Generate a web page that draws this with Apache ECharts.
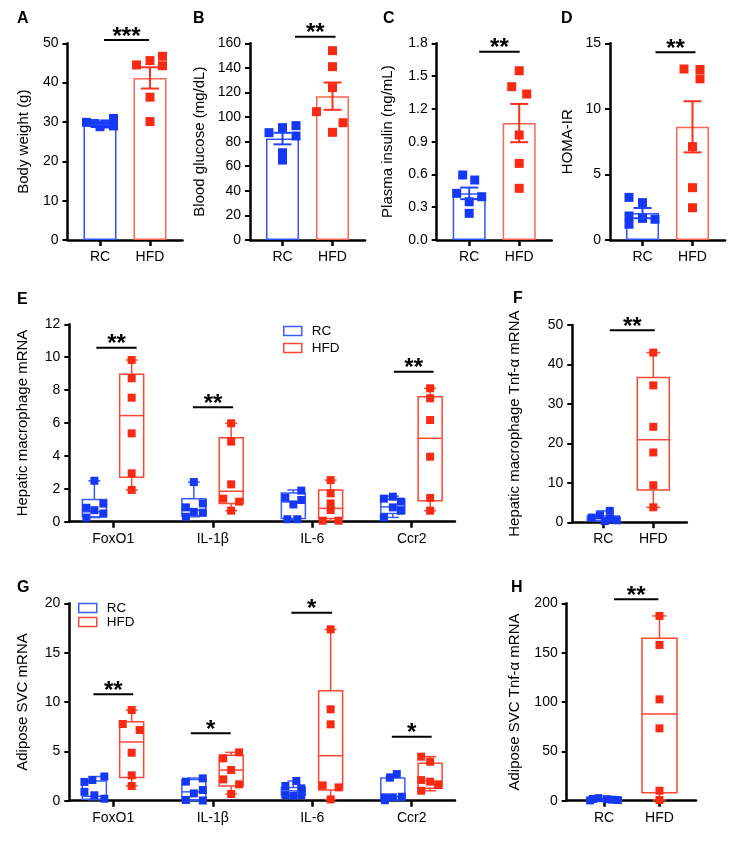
<!DOCTYPE html>
<html><head><meta charset="utf-8">
<script src="https://cdn.jsdelivr.net/npm/echarts@6/dist/echarts.min.js"></script>
<style>html,body{margin:0;padding:0;background:#fff}#c{width:738px;height:842px}</style>
</head><body><div id="c"></div>
<script>
// ================= DATA =================
const groups = ['RC', 'HFD'];
const genes = ['FoxO1', 'IL-1β', 'IL-6', 'Ccr2'];

// A: Body weight (g)
const bodyWeightRC  = [30.9, 29.9, 29.6, 29.5, 29.0, 28.8];
const bodyWeightHFD = [46.7, 45.6, 44.5, 44.3, 36.3, 30.1];
const bodyWeightMean = [29.7, 41.2];
const bodyWeightSEM  = [0.4, 2.7];
// B: Blood glucose (mg/dL)
const glucoseRC  = [93, 91.4, 87.3, 84.6, 71, 65];
const glucoseHFD = [154, 141, 124, 104.4, 95.4, 87.6];
const glucoseMean = [82.5, 117];
const glucoseSEM  = [4.7, 11.1];
// C: Plasma insulin (ng/mL)
const insulinRC  = [0.595, 0.549, 0.427, 0.396, 0.35, 0.244];
const insulinHFD = [1.549, 1.403, 1.336, 0.961, 0.701, 0.473];
const insulinMean = [0.427, 1.07];
const insulinSEM  = [0.053, 0.175];
// D: HOMA-IR
const homaRC  = [3.25, 2.85, 1.83, 1.65, 1.58, 1.2];
const homaHFD = [13.04, 13.0, 12.29, 7.12, 3.99, 2.46];
const homaMean = [2.05, 8.63];
const homaSEM  = [0.39, 1.95];

// E: Hepatic macrophage mRNA (per gene), box stats = [min, Q1, median, Q3, max]
const hepRC  = [[2.49,1.1,0.85,0.7,0.5,0.25],[2.41,1.11,0.87,0.6,0.55,0.3],[1.89,1.46,1.32,1.05,0.15,0.15],[1.52,1.4,1.22,0.87,0.67,0.26]];
const hepHFD = [[9.83,8.72,7.54,5.37,2.94,1.93],[5.98,4.87,2.27,1.4,1.22,0.67],[2.53,1.72,1.11,0.71,0.06,0.06],[8.11,7.5,6.18,3.95,1.44,0.67]];
const hepBoxRC  = [[0.25,0.3,0.6,1.35,2.49],[0.3,0.35,0.7,1.4,2.41],[0.15,0.2,1.2,1.75,1.93],[0.26,0.5,0.9,1.36,1.55]];
const hepBoxHFD = [[1.93,2.7,6.45,8.96,9.83],[0.67,1.1,1.85,5.1,5.98],[0.06,0.2,0.81,1.93,2.53],[0.67,1.28,5.07,7.6,8.11]];
// F: Hepatic macrophage Tnf-α mRNA
const hepTnfRC  = [2.9, 1.8, 1.2, 0.9, 0.5, 0.3];
const hepTnfHFD = [43, 34.7, 24.2, 17.7, 9.4, 3.8];
const hepTnfBox = [[0.3,0.45,1.0,1.6,2.9],[3.8,8.2,20.9,36.7,43]];
// G: Adipose SVC mRNA
const adiRC  = [[2.45,2.1,1.9,0.9,0.55,0.2],[2.26,1.93,1.08,0.74,0.07,0.02],[2.0,1.49,1.25,0.57,0.5,0.57],[2.7,2.33,0.4,0.34,0.34,0.05]];
const adiHFD = [[9.19,7.77,7.16,4.86,2.57,1.49],[4.9,4.29,3.11,2.16,1.66,0.68],[17.36,9.26,7.74,1.55,1.35,0.13],[4.46,3.95,2.09,1.93,1.59,1.01]];
const adiBoxRC  = [[0.1,0.15,0.45,2.0,2.45],[0.02,0.1,0.9,2.15,2.3],[0.5,0.55,1.0,1.35,2.0],[0.05,0.1,0.4,2.3,2.7]];
const adiBoxHFD = [[1.49,2.36,5.95,8.0,9.19],[0.68,1.49,3.11,4.6,4.9],[0.13,1.08,4.56,11.15,17.36],[1.01,1.25,2.0,3.8,4.46]];
// H: Adipose SVC Tnf-α mRNA
const adiTnfRC  = [2.5, 1.8, 1.5, 1.0, 0.6, 0.3];
const adiTnfHFD = [187.2, 157.8, 102.7, 73.3, 10.1, 0.7];
const adiTnfBox = [[0.3,0.4,1.0,1.6,2.5],[0.7,8.1,87.8,164.5,187.2]];

// Significance annotations: [x1, x2, y] in axis units + label
const sigA = [[0.08, 0.98, 50.85]], sigAText = ['***'];
const sigB = [[0.25, 1.06, 165.4]], sigBText = ['**'];
const sigC = [[0.2, 1.01, 1.723]], sigCText = ['**'];
const sigD = [[0.26, 1.06, 14.32]], sigDText = ['**'];
const sigE = [[-0.17, 0.235, 10.58], [0.8, 1.205, 6.96], [2.82, 3.22, 9.12]], sigEText = ['**', '**', '**'];
const sigF = [[0.13, 1.03, 48.7]], sigFText = ['**'];
const sigG = [[-0.2, 0.2, 10.78], [0.78, 1.18, 6.83], [1.79, 2.2, 19.05], [2.8, 3.2, 6.48]], sigGText = ['**', '*', '*', '*'];
const sigH = [[0.18, 0.98, 204.2]], sigHText = ['**'];

// ================= LAYOUT / STYLE =================
const FONT = 'Liberation Sans, Arial, Helvetica, sans-serif';
const PT_BLUE = '#1438f5', PT_RED = '#fa2a12';
const BAR_BLUE = '#2f55ff', BAR_RED = '#ff6450';
const ERR_BLUE = '#1f45ff', ERR_RED = '#ff2e1e';
const BOX_BLUE = '#3a5cff', BOX_RED = '#ff4634';

// horizontal jitter of points (axis units)
const jitA = [[0.27,-0.27,-0.1,0.1,0.27,0],[0.25,0,-0.27,0.25,0,0]];
const jitB = [[0.27,0,-0.27,0.27,0,0],[0,0,0,-0.32,0.21,0]];
const jitC = [[-0.13,0.11,-0.25,0.25,0,0],[0,-0.15,0.15,0,0,0]];
const jitD = [[-0.27,0,-0.27,0,0.25,-0.27],[-0.17,0.15,0.15,0,0,0]];
const jitERC = [[0,0.09,-0.08,0,0.09,-0.08],[0,0.09,-0.08,0,0.09,-0.08],[0.08,-0.08,0.08,0,-0.06,0.04],[0,-0.09,0.08,0,0.08,-0.09]];
const jitEHFD = [[0,0,0,0,0,0],[0,0,0,-0.08,0.08,0],[0,0,0,0,-0.08,0.08],[0,0,0,0,0,0]];
const jitF = [[0.13,-0.07,-0.23,0.13,0.27,0.03],[0,0,0,0,0,0]];
const jitGRC = [[0.1,-0.02,-0.1,-0.1,0,0.1],[0.09,-0.08,0.09,0,-0.08,0.09],[0.03,-0.08,0.08,-0.08,0,0.08],[0.04,-0.03,0.09,0,-0.08,-0.08]];
const jitGHFD = [[0,-0.09,0.08,0,0,0],[0.08,-0.08,0,-0.08,0.08,0],[0,0,0,-0.08,0.08,0],[-0.09,0,-0.09,0,0.08,-0.09]];
const jitH = [[-0.1,-0.2,0.05,0.15,0.25,-0.25],[0,0,0,0,0,0]];
const GENE_OFF = [-0.19, 0.185];

const gridDefs = [
  {left: 67.5, top: 43.3, width: 115, height: 196.7},   // A
  {left: 250, top: 43.3, width: 115, height: 196.7},    // B
  {left: 436.7, top: 43.3, width: 115, height: 196.7},  // C
  {left: 610, top: 43.3, width: 115, height: 196.7},    // D
  {left: 69.3, top: 324.3, width: 385.7, height: 197.4},// E
  {left: 572.3, top: 325, width: 114.5, height: 197.3}, // F
  {left: 69.3, top: 603.3, width: 385.7, height: 197.4},// G
  {left: 566.7, top: 603.3, width: 129.3, height: 197.4}// H
];
const xRanges = [[-0.65,1.65],[-0.65,1.65],[-0.65,1.65],[-0.65,1.65],[-0.442,3.435],[-0.62,1.67],[-0.442,3.435],[-0.672,1.658]];
const yDefs = [
  {max: 50, interval: 10, name: 'Body weight (g)', gap: 36},
  {max: 160, interval: 20, name: 'Blood glucose (mg/dL)', gap: 43},
  {max: 1.8, interval: 0.3, name: 'Plasma insulin (ng/mL)', gap: 41, fmt: v => v.toFixed(1)},
  {max: 15, interval: 5, name: 'HOMA-IR', gap: 35},
  {max: 12, interval: 2, name: 'Hepatic macrophage mRNA', gap: 39},
  {max: 50, interval: 10, name: 'Hepatic macrophage Tnf-α mRNA', gap: 50},
  {max: 20, interval: 5, name: 'Adipose SVC mRNA', gap: 39},
  {max: 200, interval: 50, name: 'Adipose SVC Tnf-α mRNA', gap: 44}
];

const grid = [], xAxis = [], yAxis = [], series = [];
gridDefs.forEach((g, i) => {
  grid.push(Object.assign({outerBoundsMode: 'none', containLabel: false}, g));
  const isGene = (i === 4 || i === 6);
  const cats = isGene ? genes : groups;
  const vals = cats.map((_, k) => k);
  xAxis.push({
    gridIndex: i, type: 'value', min: xRanges[i][0], max: xRanges[i][1],
    axisLine: {show: true, onZero: false, lineStyle: {color: '#000', width: 2.5}},
    axisTick: {show: true, customValues: vals, length: 6, lineStyle: {color: '#000', width: 2.5}},
    axisLabel: {show: true, customValues: vals, formatter: v => cats[Math.round(v)], color: '#000', fontSize: 14, fontFamily: FONT, margin: 10},
    splitLine: {show: false}
  });
  const yd = yDefs[i];
  yAxis.push({
    gridIndex: i, type: 'value', min: 0, max: yd.max, interval: yd.interval,
    axisLine: {show: true, onZero: false, lineStyle: {color: '#000', width: 2.5}},
    axisTick: {show: true, length: 5, lineStyle: {color: '#000', width: 2}},
    axisLabel: {color: '#000', fontSize: 14, fontFamily: FONT, margin: 9, formatter: yd.fmt},
    splitLine: {show: false},
    name: yd.name, nameLocation: 'middle', nameGap: yd.gap,
    nameTextStyle: {color: '#000', fontSize: 15, fontFamily: FONT}
  });
});

function scatter(idx, vals, jit, base, color, size, name) {
  series.push({
    type: 'scatter', name: name, xAxisIndex: idx, yAxisIndex: idx, symbol: 'rect', symbolSize: size,
    itemStyle: {color: color, opacity: 1}, z: 4,
    data: vals.map((v, k) => [base + jit[k], v])
  });
}

function errorBars(idx, mean, sem) {
  series.push({
    type: 'custom', name: 'err' + idx, xAxisIndex: idx, yAxisIndex: idx, z: 5,
    encode: {x: 0, y: 1},
    data: mean.map((m, k) => [k, m, sem[k]]),
    renderItem: (params, api) => {
      const x = api.value(0), m = api.value(1), s = api.value(2);
      const t = api.coord([x, m + s]), b = api.coord([x, m - s]);
      const c = params.dataIndex === 0 ? ERR_BLUE : ERR_RED;
      const cw = 18, st = {stroke: c, lineWidth: 2};
      return {type: 'group', children: [
        {type: 'line', shape: {x1: t[0], y1: t[1], x2: b[0], y2: b[1]}, style: st},
        {type: 'line', shape: {x1: t[0] - cw / 2, y1: t[1], x2: t[0] + cw / 2, y2: t[1]}, style: st},
        {type: 'line', shape: {x1: b[0] - cw / 2, y1: b[1], x2: b[0] + cw / 2, y2: b[1]}, style: st}
      ]};
    }
  });
}

function barPanel(idx, rc, hfd, mean, sem, jit) {
  series.push({
    type: 'bar', name: 'bar' + idx, xAxisIndex: idx, yAxisIndex: idx, barWidth: 33, z: 2,
    itemStyle: {color: '#fff', borderWidth: 1.5},
    data: [
      {value: [0, mean[0]], itemStyle: {borderColor: BAR_BLUE}},
      {value: [1, mean[1]], itemStyle: {borderColor: BAR_RED}}
    ]
  });
  scatter(idx, rc, jit[0], 0, PT_BLUE, 9, 'ptRC' + idx);
  scatter(idx, hfd, jit[1], 1, PT_RED, 9, 'ptHFD' + idx);
  errorBars(idx, mean, sem);
}

function boxSeries(idx, name, items, color, width, capW) {
  series.push({
    type: 'custom', name: name, xAxisIndex: idx, yAxisIndex: idx, z: 3,
    itemStyle: {color: color},
    encode: {x: 0, y: [1, 2, 3, 4, 5]},
    data: items,
    renderItem: (params, api) => {
      const x = api.value(0);
      const pMin = api.coord([x, api.value(1)]), pQ1 = api.coord([x, api.value(2)]);
      const pMed = api.coord([x, api.value(3)]), pQ3 = api.coord([x, api.value(4)]);
      const pMax = api.coord([x, api.value(5)]);
      const cx = pMin[0], st = {stroke: color, lineWidth: 1.5, fill: null};
      return {type: 'group', children: [
        {type: 'line', shape: {x1: cx, y1: pMax[1], x2: cx, y2: pQ3[1]}, style: st},
        {type: 'line', shape: {x1: cx, y1: pQ1[1], x2: cx, y2: pMin[1]}, style: st},
        {type: 'line', shape: {x1: cx - capW / 2, y1: pMax[1], x2: cx + capW / 2, y2: pMax[1]}, style: st},
        {type: 'line', shape: {x1: cx - capW / 2, y1: pMin[1], x2: cx + capW / 2, y2: pMin[1]}, style: st},
        {type: 'rect', shape: {x: cx - width / 2, y: pQ3[1], width: width, height: pQ1[1] - pQ3[1]}, style: {stroke: color, lineWidth: 1.5, fill: 'rgba(255,255,255,0)'}},
        {type: 'line', shape: {x1: cx - width / 2, y1: pMed[1], x2: cx + width / 2, y2: pMed[1]}, style: st}
      ]};
    }
  });
}

function genePanel(idx, rcPts, hfdPts, boxRC, boxHFD, jRC, jHFD, boxNames) {
  boxSeries(idx, boxNames[0], boxRC.map((b, k) => [k + GENE_OFF[0]].concat(b)), BOX_BLUE, 24, 12);
  boxSeries(idx, boxNames[1], boxHFD.map((b, k) => [k + GENE_OFF[1]].concat(b)), BOX_RED, 24, 12);
  rcPts.forEach((pts, k) => scatter(idx, pts, jRC[k], k + GENE_OFF[0], PT_BLUE, 8, 'gRC' + idx + '_' + k));
  hfdPts.forEach((pts, k) => scatter(idx, pts, jHFD[k], k + GENE_OFF[1], PT_RED, 8, 'gHFD' + idx + '_' + k));
}

function tnfPanel(idx, rc, hfd, box, jit, width) {
  boxSeries(idx, 'boxRC' + idx, [[0].concat(box[0])], BOX_BLUE, width, 14);
  boxSeries(idx, 'boxHFD' + idx, [[1].concat(box[1])], BOX_RED, width, 14);
  scatter(idx, rc, jit[0], 0, PT_BLUE, 8, 'tRC' + idx);
  scatter(idx, hfd, jit[1], 1, PT_RED, 8, 'tHFD' + idx);
}

function sig(idx, items, texts) {
  series.push({
    type: 'custom', name: 'sig' + idx, xAxisIndex: idx, yAxisIndex: idx, z: 6,
    encode: {x: [0, 1], y: 2},
    data: items,
    renderItem: (params, api) => {
      const a = api.coord([api.value(0), api.value(2)]), b = api.coord([api.value(1), api.value(2)]);
      return {type: 'group', children: [
        {type: 'line', shape: {x1: a[0], y1: a[1], x2: b[0], y2: b[1]}, style: {stroke: '#000', lineWidth: 2}},
        {type: 'text', x: (a[0] + b[0]) / 2, y: a[1] - 3, style: {text: texts[params.dataIndex], fill: '#000',
          font: 'bold 24px ' + FONT, align: 'center', verticalAlign: 'middle'}}
      ]};
    }
  });
}

barPanel(0, bodyWeightRC, bodyWeightHFD, bodyWeightMean, bodyWeightSEM, jitA);
barPanel(1, glucoseRC, glucoseHFD, glucoseMean, glucoseSEM, jitB);
barPanel(2, insulinRC, insulinHFD, insulinMean, insulinSEM, jitC);
barPanel(3, homaRC, homaHFD, homaMean, homaSEM, jitD);
genePanel(4, hepRC, hepHFD, hepBoxRC, hepBoxHFD, jitERC, jitEHFD, ['RC', 'HFD']);
tnfPanel(5, hepTnfRC, hepTnfHFD, hepTnfBox, jitF, 32);
genePanel(6, adiRC, adiHFD, adiBoxRC, adiBoxHFD, jitGRC, jitGHFD, ['RC', 'HFD']);
tnfPanel(7, adiTnfRC, adiTnfHFD, adiTnfBox, jitH, 35);
sig(0, sigA, sigAText); sig(1, sigB, sigBText); sig(2, sigC, sigCText); sig(3, sigD, sigDText);
sig(4, sigE, sigEText); sig(5, sigF, sigFText); sig(6, sigG, sigGText); sig(7, sigH, sigHText);

const legendBase = {
  orient: 'vertical', itemWidth: 18, itemHeight: 9, icon: 'rect', selectedMode: false, padding: 0,
  textStyle: {color: '#000', fontSize: 13.5, fontFamily: FONT, padding: [0, 0, 0, 5]},
  data: [
    {name: 'RC', itemStyle: {color: '#fff', borderColor: BOX_BLUE, borderWidth: 1.5}},
    {name: 'HFD', itemStyle: {color: '#fff', borderColor: BOX_RED, borderWidth: 1.5}}
  ]
};
const legend = [
  Object.assign({}, legendBase, {left: 283, top: 324, itemGap: 3}),
  Object.assign({}, legendBase, {left: 78, top: 601, itemGap: 0})
];

const panelLabels = [['A', 17, 11], ['B', 193, 11], ['C', 383, 11], ['D', 561, 11],
  ['E', 17, 292], ['F', 513, 291], ['G', 17, 580], ['H', 511, 580]];
const graphic = panelLabels.map(p => ({type: 'text', x: p[1], y: p[2],
  style: {text: p[0], fill: '#000', font: 'bold 16px ' + FONT}}));

const chart = echarts.init(document.getElementById('c'), null, {renderer: 'canvas'});
chart.setOption({animation: false, backgroundColor: '#fff', grid, xAxis, yAxis, series, legend, graphic});
</script></body></html>
